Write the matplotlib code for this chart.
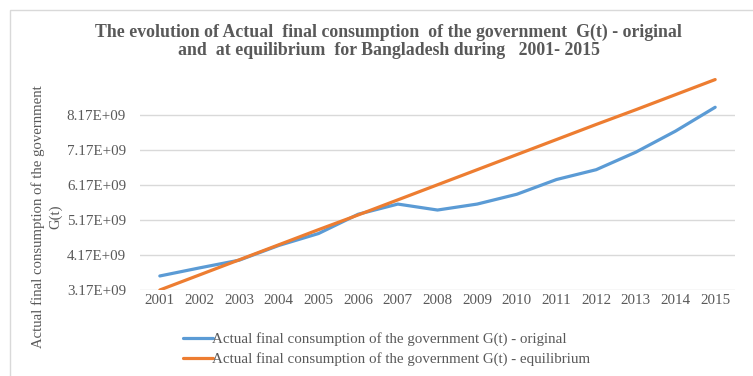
import numpy as np
import matplotlib.pyplot as plt
from matplotlib.patches import Rectangle

# data (values in units of 1e9)
years = [2001, 2002, 2003, 2004, 2005, 2006, 2007, 2008,
         2009, 2010, 2011, 2012, 2013, 2014, 2015]
g_original = [3.57, 3.80, 4.02, 4.44, 4.78, 5.33, 5.62, 5.45,
              5.62, 5.90, 6.32, 6.60, 7.10, 7.70, 8.38]
g_equilibrium = [3.17, 3.60, 4.03, 4.46, 4.89, 5.31, 5.74, 6.17,
                 6.60, 7.03, 7.46, 7.89, 8.31, 8.74, 9.17]
ytick_vals = [3.17, 4.17, 5.17, 6.17, 7.17, 8.17]
ytick_labels = ['3.17E+09', '4.17E+09', '5.17E+09', '6.17E+09', '7.17E+09', '8.17E+09']

title = ('The evolution of Actual  final consumption  of the government  G(t) - original\n'
         'and  at equilibrium  for Bangladesh during   2001- 2015')
ylabel = 'Actual final consumption of the government\nG(t)'
label_orig = 'Actual final consumption of the government G(t) - original'
label_eq = 'Actual final consumption of the government G(t) - equilibrium'

plt.rcParams['font.family'] = ['Liberation Serif', 'DejaVu Serif']
grey = '#595959'

fig = plt.figure(figsize=(7.53, 3.76), dpi=100)
# chart area border
fig.patches.append(Rectangle((10 / 753, -0.1), 1.0, 1.1 - 10 / 376, transform=fig.transFigure,
                             fill=False, edgecolor='#d9d9d9', linewidth=1.0))

ax = fig.add_axes([140 / 753, 1 - 290 / 376, (735 - 140) / 753, (290 - 75) / 376])

ax.plot(years, np.array(g_original) * 1e9, color='#5B9BD5', lw=2.3, label=label_orig,
        solid_capstyle='round')
ax.plot(years, np.array(g_equilibrium) * 1e9, color='#ED7D31', lw=2.3, label=label_eq,
        solid_capstyle='round')

ax.set_xlim(2000.5, 2015.5)
ax.set_ylim(3.17e9, 9.3e9)
ax.set_xticks(years)
ax.set_xticklabels([str(y) for y in years])
ax.set_yticks(np.array(ytick_vals) * 1e9)
ax.set_yticklabels(ytick_labels)
ax.tick_params(axis='both', length=0, labelsize=10.8, labelcolor=grey)
ax.tick_params(axis='y', pad=10)
ax.tick_params(axis='x', pad=3)
ax.grid(axis='y', color='#d9d9d9', lw=1.0)
ax.set_axisbelow(True)
for s in ax.spines.values():
    s.set_visible(False)

fig.text(0.516, 1 - 41 / 376, title, ha='center', va='center', fontsize=12.8,
         fontweight='bold', color=grey, linespacing=1.1)
fig.text(47 / 753, 1 - 217 / 376, ylabel, rotation=90, ha='center', va='center',
         fontsize=10.6, color=grey, linespacing=1.4)

ax.legend(loc='upper left', bbox_to_anchor=(169 / 753, 1 - 319 / 376),
          bbox_transform=fig.transFigure, frameon=False, fontsize=10.8,
          labelcolor=grey, handlelength=2.0, handletextpad=0.0, labelspacing=0.4)

fig.savefig('out.png', dpi=100)
